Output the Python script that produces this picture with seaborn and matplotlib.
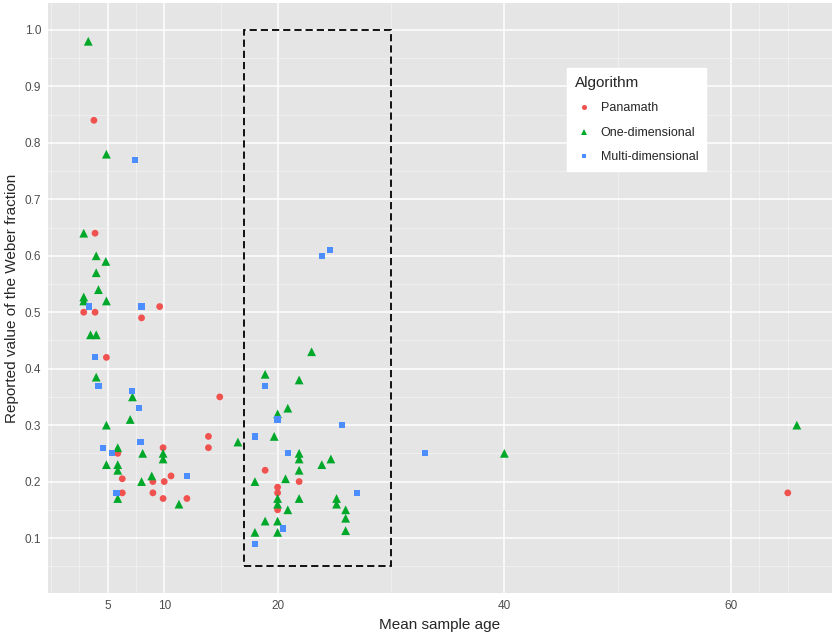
import numpy as np
import pandas as pd
import matplotlib
matplotlib.use("Agg")
import matplotlib.pyplot as plt
import seaborn as sns
from matplotlib.patches import Rectangle

# Panamath (red circles)
pan_age = [3.8, 3.9, 2.9, 3.9, 8.0, 9.6, 4.9, 14.9, 13.9, 13.9, 5.9, 9.9, 6.3,
           10.6, 9.0, 10.0, 6.3, 9.0, 9.9, 12.0, 18.9, 21.9, 20.0, 20.0, 20.0, 65.0]
pan_w = [0.84, 0.64, 0.50, 0.50, 0.49, 0.51, 0.42, 0.35, 0.28, 0.26, 0.25, 0.26, 0.205,
         0.21, 0.20, 0.20, 0.18, 0.18, 0.17, 0.17, 0.22, 0.20, 0.19, 0.18, 0.15, 0.18]

# One-dimensional (green triangles)
one_age = [3.3, 4.9, 2.9, 4.0, 4.85, 4.0, 4.2, 2.9, 2.9, 4.9, 3.5, 4.0, 4.0, 7.2,
           7.0, 4.9, 16.5, 5.9, 8.1, 9.9, 9.9, 4.9, 5.9, 5.9, 8.9, 8.0, 5.9, 11.3,
           18.9, 23.0, 21.9, 20.9, 20.0, 19.7, 21.9, 21.9, 21.9, 21.9, 23.9, 24.7,
           20.7, 18.0, 20.0, 20.0, 20.0, 20.0, 20.9, 18.9, 18.0, 25.2, 25.2, 26.0,
           26.0, 26.0, 40.0, 65.8]
one_w = [0.98, 0.78, 0.64, 0.60, 0.59, 0.57, 0.54, 0.527, 0.52, 0.52, 0.46, 0.46, 0.385, 0.35,
         0.31, 0.30, 0.27, 0.26, 0.25, 0.25, 0.24, 0.23, 0.23, 0.22, 0.21, 0.20, 0.17, 0.16,
         0.39, 0.43, 0.38, 0.33, 0.32, 0.28, 0.25, 0.24, 0.22, 0.17, 0.23, 0.24,
         0.205, 0.20, 0.17, 0.16, 0.13, 0.11, 0.15, 0.13, 0.11, 0.17, 0.16, 0.15,
         0.135, 0.113, 0.25, 0.30]

# Multi-dimensional (blue squares)
multi_age = [7.4, 23.9, 24.6, 3.35, 8.0, 3.9, 4.2, 7.15, 7.8, 7.9, 4.6, 5.4, 12.0,
             5.8, 18.0, 18.9, 20.0, 25.7, 20.9, 20.5, 18.0, 27.0, 33.0]
multi_w = [0.77, 0.60, 0.61, 0.51, 0.51, 0.42, 0.37, 0.36, 0.33, 0.27, 0.26, 0.25, 0.21,
           0.18, 0.28, 0.37, 0.31, 0.30, 0.25, 0.117, 0.09, 0.18, 0.25]

algorithms = ["Panamath", "One-dimensional", "Multi-dimensional"]
colors = {"Panamath": "#F0524F", "One-dimensional": "#00A82A", "Multi-dimensional": "#4C8DFF"}
markers = {"Panamath": "o", "One-dimensional": "^", "Multi-dimensional": "s"}
sizes = {"Panamath": 24, "One-dimensional": 40, "Multi-dimensional": 20}

# highlighted region
box_age = [17, 30]
box_w = [0.05, 1.0]

x_major = [5, 10, 20, 40, 60]
x_minor = [0, 2.5, 7.5, 15, 30, 50, 62.5, 65]
y_major = [0.1, 0.2, 0.3, 0.4, 0.5, 0.6, 0.7, 0.8, 0.9, 1.0]
y_minor = [0.05, 0.15, 0.25, 0.35, 0.45, 0.55, 0.65, 0.75, 0.85, 0.95]

df = pd.concat([
    pd.DataFrame({"age": pan_age, "weber": pan_w, "Algorithm": "Panamath"}),
    pd.DataFrame({"age": one_age, "weber": one_w, "Algorithm": "One-dimensional"}),
    pd.DataFrame({"age": multi_age, "weber": multi_w, "Algorithm": "Multi-dimensional"}),
], ignore_index=True)

sns.set_style("darkgrid")
plt.rcParams["font.family"] = ["Liberation Sans", "DejaVu Sans"]

fig, ax = plt.subplots(figsize=(8.35, 6.37), dpi=100)
fig.subplots_adjust(left=0.0575, right=0.9964, top=0.995, bottom=0.069)
ax.set_facecolor("#E5E5E5")

ax.set_xticks(x_major)
ax.set_xticks(x_minor, minor=True)
ax.set_yticks(y_major)
ax.set_yticks(y_minor, minor=True)
ax.grid(which="major", color="white", linewidth=1.1)
ax.grid(which="minor", color="#F2F2F2", linewidth=0.6)
ax.set_axisbelow(True)

sns.scatterplot(data=df, x="age", y="weber", hue="Algorithm", style="Algorithm",
                size="Algorithm", hue_order=algorithms, style_order=algorithms,
                size_order=algorithms, palette=colors, markers=markers, sizes=sizes,
                linewidth=0, ax=ax, zorder=3)

ax.add_patch(Rectangle((box_age[0], box_w[0]), box_age[1] - box_age[0], box_w[1] - box_w[0],
                       fill=False, edgecolor="black", linewidth=1.3,
                       linestyle=(0, (4, 2.2)), zorder=4))

ax.set_xlim(-0.25, 68.9)
ax.set_ylim(0.0025, 1.0475)
ax.set_yticklabels([f"{v:.1f}" for v in y_major])
ax.tick_params(which="major", length=3, width=0.8, color="#333333",
               labelsize=8.5, labelcolor="#4D4D4D", pad=2, direction="out")
ax.tick_params(which="minor", length=0)
for s in ax.spines.values():
    s.set_visible(False)

ax.set_xlabel("Mean sample age", fontsize=11, labelpad=4)
ax.set_ylabel("Reported value of the Weber fraction", fontsize=11, labelpad=4)

handles, labels = ax.get_legend_handles_labels()
leg = ax.legend(handles, labels, title="Algorithm", loc="upper left",
                bbox_to_anchor=(0.654, 0.900),
                frameon=True, fancybox=False, fontsize=9, title_fontsize=11,
                markerscale=0.75, handlelength=1.6, handletextpad=0.5,
                borderpad=0.6, labelspacing=1.0, alignment="left")
leg.get_frame().set_facecolor("white")
leg.get_frame().set_edgecolor("white")
leg.get_frame().set_alpha(1)

fig.savefig("out.png", dpi=100)
